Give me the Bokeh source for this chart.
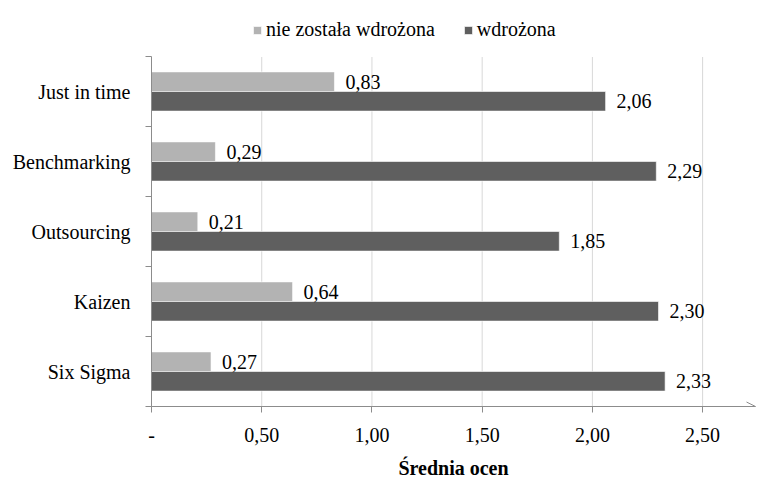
from bokeh.plotting import figure
from bokeh.models import (ColumnDataSource, FixedTicker, LabelSet, Legend, LegendItem,
                          Arrow, OpenHead)
from bokeh.embed import file_html
from bokeh.resources import INLINE

# Methods, listed top to bottom
methods = ["Just in time", "Benchmarking", "Outsourcing", "Kaizen", "Six Sigma"]
not_implemented = [0.83, 0.29, 0.21, 0.64, 0.27]
implemented = [2.06, 2.29, 1.85, 2.30, 2.33]
x_ticks = [0.0, 0.5, 1.0, 1.5, 2.0, 2.5]
x_tick_labels = ["-", "0,50", "1,00", "1,50", "2,00", "2,50"]

FONT = "Liberation Serif"
LIGHT = "#b3b3b3"
DARK = "#5f5f5f"
AXIS = "#8c8c8c"

n = len(methods)
centers = [n - i - 0.5 for i in range(n)]
bar_h = 0.28
# head room above the bars for the legend (frame reaches the top of the canvas)
y_top = n * 406 / 350

def fmt(v):
    return f"{v:.2f}".replace(".", ",")

src_light = ColumnDataSource(dict(y=[c + bar_h / 2 for c in centers], v=not_implemented,
                                  lab=[fmt(v) for v in not_implemented]))
src_dark = ColumnDataSource(dict(y=[c - bar_h / 2 for c in centers], v=implemented,
                                 lab=[fmt(v) for v in implemented]))

p = figure(width=757, height=481, output_backend="svg", toolbar_location=None,
           x_range=(0, 2.74), y_range=(0, y_top),
           min_border_left=151, min_border_right=2, min_border_top=0, min_border_bottom=75)
p.outline_line_color = None
p.background_fill_color = "white"
p.border_fill_color = "white"

# dotted vertical grid, limited to the category area
p.grid.grid_line_color = None
p.segment(x0=x_ticks[1:], y0=0, x1=x_ticks[1:], y1=n,
          line_color="#b0b0b0", line_dash="1 1", line_width=1)

r_light = p.hbar(y="y", right="v", left=0, height=bar_h, source=src_light,
                 fill_color=LIGHT, line_color="white", line_width=0.6)
r_dark = p.hbar(y="y", right="v", left=0, height=bar_h, source=src_dark,
                fill_color=DARK, line_color="white", line_width=0.6)

for src in (src_light, src_dark):
    p.add_layout(LabelSet(x="v", y="y", text="lab", source=src, x_offset=11,
                          text_baseline="middle", text_align="left",
                          text_font=FONT, text_font_size="20px", text_color="black"))

# x axis
p.xaxis.ticker = FixedTicker(ticks=x_ticks)
p.xaxis.major_label_overrides = {t: l for t, l in zip(x_ticks, x_tick_labels)}
p.xaxis.major_label_text_font = FONT
p.xaxis.major_label_text_font_size = "20px"
p.xaxis.major_label_text_color = "black"
p.xaxis.major_label_standoff = 15
p.xaxis.axis_line_color = AXIS
p.xaxis.major_tick_line_color = AXIS
p.xaxis.major_tick_out = 6
p.xaxis.major_tick_in = 0
p.xaxis.minor_tick_line_color = None
p.xaxis.axis_label = "Średnia ocen"
p.xaxis.axis_label_text_font = FONT
p.xaxis.axis_label_text_font_size = "20px"
p.xaxis.axis_label_text_font_style = "bold"
p.xaxis.axis_label_text_color = "black"
p.xaxis.axis_label_standoff = 12

# y axis: names at the category centres, tick marks on the boundaries
p.yaxis.ticker = FixedTicker(ticks=centers, minor_ticks=[float(k) for k in range(n + 1)])
p.yaxis.bounds = (0, n)
p.yaxis.major_label_overrides = {c: m for c, m in zip(centers, methods)}
p.yaxis.major_label_text_font = FONT
p.yaxis.major_label_text_font_size = "20px"
p.yaxis.major_label_text_color = "black"
p.yaxis.major_label_standoff = 15
p.yaxis.major_tick_line_color = None
p.yaxis.minor_tick_line_color = AXIS
p.yaxis.minor_tick_out = 6
p.yaxis.minor_tick_in = 0
p.yaxis.axis_line_color = AXIS

# arrow at the end of the value axis
p.add_layout(Arrow(end=OpenHead(size=9, line_color=AXIS, line_width=1),
                   x_start=p.x_range.start, x_end=p.x_range.end, y_start=0, y_end=0,
                   line_color=AXIS, line_width=1))

legend = Legend(items=[LegendItem(label="nie została wdrożona", renderers=[r_light]),
                       LegendItem(label="wdrożona", renderers=[r_dark])],
                location=(101, 365), orientation="horizontal")
legend.glyph_width = 10
legend.glyph_height = 10
legend.label_height = 20
legend.label_standoff = 4
legend.spacing = 28
legend.padding = 0
legend.margin = 0
legend.label_text_font = FONT
legend.label_text_font_size = "20px"
legend.label_text_color = "black"
legend.label_text_baseline = "middle"
legend.border_line_color = None
legend.background_fill_alpha = 0
p.add_layout(legend)

open("out.html", "w").write(file_html(p, INLINE))
